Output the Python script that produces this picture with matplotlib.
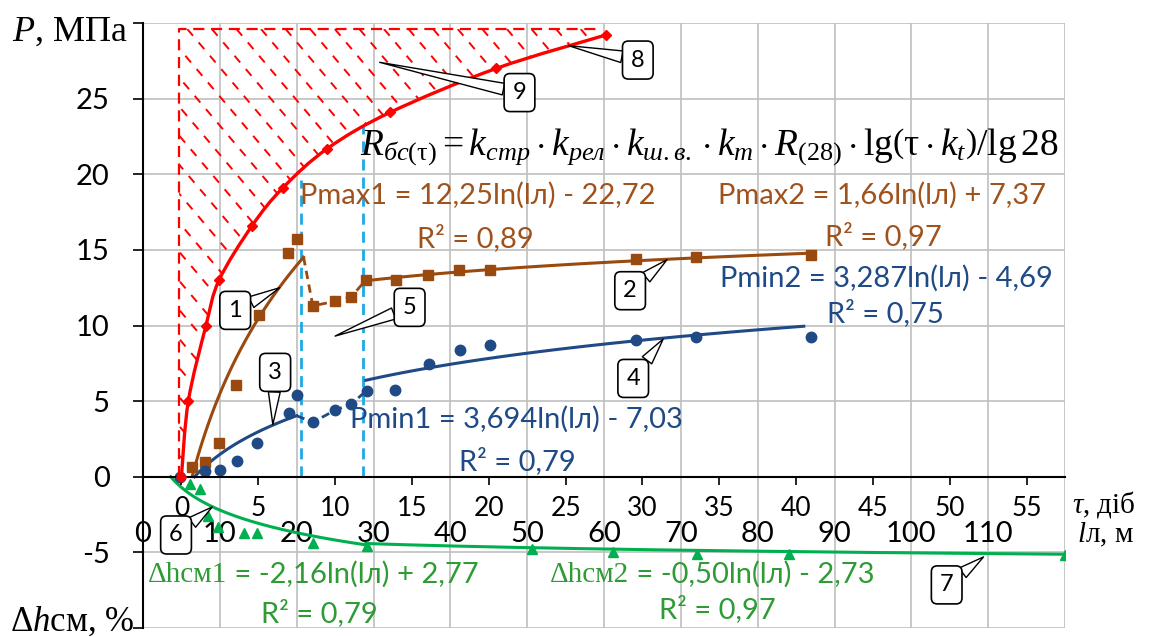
import numpy as np
import matplotlib
matplotlib.use('Agg')
import matplotlib.pyplot as plt
from matplotlib.path import Path
from matplotlib.patches import PathPatch

plt.rcParams['font.family'] = ['Lato', 'Open Sans', 'DejaVu Sans']
plt.rcParams['mathtext.fontset'] = 'custom'
plt.rcParams['mathtext.rm'] = 'Liberation Serif'
plt.rcParams['mathtext.it'] = 'Liberation Serif:italic'
plt.rcParams['mathtext.bf'] = 'Liberation Serif:bold'

# ---- data ----
# curve 8: concrete strength vs age tau (days)
tau_r = [0.0, 0.45, 1.6, 2.45, 4.6, 6.6, 9.5, 13.6, 20.5, 27.6]
P_r = [0.0, 5.0, 10.0, 13.0, 16.6, 19.1, 21.7, 24.1, 27.0, 29.2]

# Pmax points vs lл, m
l_max = [6.4, 8.1, 9.9, 12.1, 15.1, 18.9, 20.0, 22.1, 25.0, 27.1, 29.0, 32.9,
         37.1, 41.1, 45.1, 64.1, 72.0, 87.0]
P_max = [0.66, 0.95, 2.25, 6.05, 10.7, 14.8, 15.7, 11.3, 11.6, 11.9, 13.0, 13.0,
         13.35, 13.7, 13.7, 14.4, 14.55, 14.65]

# Pmin points vs lл
l_min = [4.8, 8.1, 10.0, 12.2, 14.8, 19.0, 20.0, 22.1, 25.0, 27.1, 29.1, 32.8,
         37.2, 41.2, 45.1, 64.1, 72.0, 87.0]
P_min = [0.0, 0.4, 0.45, 1.05, 2.25, 4.2, 5.4, 3.6, 4.4, 4.8, 5.7, 5.75,
         7.45, 8.4, 8.7, 9.05, 9.25, 9.25]

# settlement dh, % vs lл
l_dh = [6.1, 7.4, 8.5, 9.8, 13.1, 14.8, 22.1, 29.1, 50.6, 61.2, 72.1, 84.1, 120.0]
dh = [-0.45, -0.8, -2.6, -3.35, -3.75, -3.75, -4.35, -4.6, -4.8, -4.95, -5.1, -5.1, -5.2]

# trend lines y = a*ln(l) + b over [l_from, l_to]
trend_max = [(12.25, -22.72, 6.4, 20.9), (1.66, 7.37, 29.0, 87.0)]
trend_min = [(3.694, -7.03, 6.7, 20.0), (3.287, -4.69, 29.0, 86.0)]
trend_dh = [(-2.16, 2.77, 3.6, 29.0), (-0.50, -2.73, 29.0, 120.0)]

# zone 5 borders (lл) and their tops (P)
zone_l = [20.6, 28.6]
zone_top = [19.6, 23.2]

# hatched zone 9 (tau, P)
hatch_left = -0.15
hatch_top = 29.6
hatch_right = 27.4

l_ticks = list(range(0, 121, 10))
l_labels = [str(v) for v in range(0, 111, 10)] + ['']
p_ticks = list(range(-10, 31, 5))
p_labels = [''] + [str(v) for v in range(-5, 26, 5)] + ['']
tau_ticks = list(range(0, 56, 5))

brown = '#9A4A0E'
brown_txt = '#A0521C'
blue = '#1F4A85'
green = '#00B050'
green_txt = '#2E9B35'
cyan = '#1EA9E6'

eq_texts = [
    ('Pmax1 = 12,25ln(lл) - 22,72', brown_txt, 43.6, 18.6),
    ('R² = 0,89', brown_txt, 43.3, 15.8),
    ('Pmax2 = 1,66ln(lл) + 7,37', brown_txt, 96.2, 18.6),
    ('R² = 0,97', brown_txt, 96.3, 15.9),
    ('Pmin2 = 3,287ln(lл) - 4,69', blue, 96.7, 13.1),
    ('R² = 0,75', blue, 96.6, 10.8),
    ('Pmin1 = 3,694ln(lл) - 7,03', blue, 48.6, 3.8),
    ('R² = 0,79', blue, 48.7, 1.05),
    ('R² = 0,79', green_txt, 22.9, -9.0),
    ('R² = 0,97', green_txt, 74.8, -8.75),
]
dh_texts = [('Δhсм1', ' = -2,16ln(lл) + 2,77', 0.6, -6.94),
            ('Δhсм2', ' = -0,50ln(lл) - 2,73', 53.0, -6.94)]

callouts_l = [('1', (17.8, 12.5), (12.0, 11.0)), ('2', (68.2, 14.35), (63.4, 12.3)),
              ('3', (16.9, 3.45), (17.2, 6.9)), ('4', (67.7, 9.1), (63.8, 6.5)),
              ('5', (25.0, 9.3), (34.7, 11.2)), ('6', (9.0, -2.0), (4.3, -3.85)),
              ('7', (109.4, -5.3), (104.6, -7.15))]
callouts_tau = [('8', (25.2, 28.5), (29.7, 27.55)), ('9', (12.9, 27.4), (22.0, 25.4))]


def smooth(x, y):
    # Catmull-Rom -> cubic bezier, like Excel's smoothed line
    pts = np.column_stack([x, y]).astype(float)
    verts = [pts[0]]
    codes = [Path.MOVETO]
    n = len(pts)
    for i in range(n - 1):
        p0 = pts[i - 1] if i > 0 else pts[i]
        p1, p2 = pts[i], pts[i + 1]
        p3 = pts[i + 2] if i + 2 < n else pts[i + 1]
        verts += [p1 + (p2 - p0) / 6, p2 - (p3 - p1) / 6, p2]
        codes += [Path.CURVE4] * 3
    return verts, codes


def callout(axis, num, xy, xytext):
    axis.annotate(num, xy=xy, xytext=xytext, ha='center', va='center',
                  fontsize=17, zorder=10,
                  bbox=dict(boxstyle='round,pad=0.36,rounding_size=0.25', fc='white',
                            ec='black', lw=1.2),
                  arrowprops=dict(arrowstyle='wedge,tail_width=0.5,shrink_factor=0.5',
                                  fc='white', ec='black', lw=1.0, shrinkA=0, shrinkB=0))


fig = plt.figure(figsize=(11.51, 6.37), dpi=100)
ax = fig.add_axes([143 / 1151, 9 / 637, 922 / 1151, 605 / 637])
ax2 = ax.twiny()

# main axes: lл (m) horizontally, P / dh vertically
ax.set_xlim(0, 120)
ax.set_ylim(-10, 30)
ax.xaxis.tick_bottom()
ax.set_xticks(l_ticks, l_labels)
ax.set_yticks(p_ticks, p_labels)
ax.grid(True, color='#BFBFBF', lw=1.2)
ax.set_axisbelow(True)
for s in ['top', 'right']:
    ax.spines[s].set_visible(False)
ax.spines['bottom'].set_position(('data', -2.75))
ax.spines['bottom'].set_color('none')
ax.spines['left'].set_color('black')
ax.spines['left'].set_linewidth(1.5)
ax.tick_params(axis='x', length=0, labelsize=21, pad=2)
ax.tick_params(axis='y', direction='out', length=7, width=1.2, labelsize=21, pad=17)

# second axis: tau, days
ax2.set_xlim(-2.5, 57.5)
for s in ['top', 'left', 'right']:
    ax2.spines[s].set_visible(False)
ax2.spines['bottom'].set_visible(True)
ax2.spines['bottom'].set_position(('data', 0))
ax2.spines['bottom'].set_linewidth(1.5)
ax2.xaxis.set_ticks_position('bottom')
ax2.set_xticks(tau_ticks)
ax2.tick_params(axis='x', direction='out', length=6, width=1.2, labelsize=19, pad=8)

# zone borders
for xl, top in zip(zone_l, zone_top):
    ax.plot([xl, xl], [0, top], color=cyan, lw=2, ls=(0, (4, 2.5)), zorder=2)

# Pmax
for a, b, l0, l1 in trend_max:
    ll = np.linspace(l0, l1, 120)
    ax.plot(ll, a * np.log(ll) + b, color=brown, lw=2.2, zorder=3)
a, b, l0, l1 = trend_max[0]
ax.plot([l1] + l_max[7:11], [a * np.log(l1) + b] + P_max[7:11], color=brown, lw=2,
        ls=(0, (3, 2)), zorder=3)
ax.plot(l_max, P_max, 's', color=brown, ms=7.5, zorder=4)

# Pmin
for a, b, l0, l1 in trend_min:
    ll = np.linspace(l0, l1, 120)
    ax.plot(ll, a * np.log(ll) + b, color=blue, lw=2.2, zorder=3)
a, b, l0, l1 = trend_min[0]
ax.plot([l1] + l_min[7:11], [a * np.log(l1) + b] + P_min[7:11], color=blue, lw=2,
        ls=(0, (3, 2)), zorder=3)
ax.plot(l_min, P_min, 'o', color=blue, ms=7.5, zorder=4)

# dh
for a, b, l0, l1 in trend_dh:
    ll = np.linspace(l0, l1, 200)
    ax.plot(ll, a * np.log(ll) + b, color=green, lw=2.2, zorder=3)
ax.plot(l_dh, dh, '^', color=green, ms=7, zorder=4)

# red curve and hatched zone
v, c = smooth(tau_r, P_r)
ax2.add_patch(PathPatch(Path(v, c), fc='none', ec='red', lw=2.4, zorder=5))
ax2.plot(tau_r, P_r, 'D', color='red', ms=5, zorder=6)

rv, rc = smooth(tau_r[::-1], P_r[::-1])
hv = [(hatch_left, 0), (hatch_left, hatch_top), (hatch_right, hatch_top)] + rv + [(0, 0)]
hc = [Path.MOVETO, Path.LINETO, Path.LINETO, Path.LINETO] + rc[1:] + [Path.CLOSEPOLY]
zone = PathPatch(Path(hv, hc), fc='none', ec='none')
ax2.add_patch(zone)
steep = 1.2
for c0 in np.arange(hatch_left - hatch_top / steep - 2, hatch_right + 2, 1.6):
    ln, = ax2.plot([c0, c0 + 40 / steep], [hatch_top, hatch_top - 40], color='red', lw=1.4,
                   dashes=(4.5, 4.5), zorder=4)
    ln.set_clip_path(zone)
ax2.plot([hatch_left, hatch_left, hatch_right], [0, hatch_top, hatch_top], color='red',
         lw=1.6, ls=(0, (5, 3)), zorder=4)

# equations
for s, col, x, y in eq_texts:
    ax.text(x, y, s, color=col, fontsize=21, ha='center', va='center', zorder=7)
for s1, s2, x, y in dh_texts:
    t = ax.text(x, y, s1, color=green_txt, fontsize=21, family='Liberation Serif',
                ha='left', va='baseline', zorder=7)
    ax.annotate(s2, xy=(1, 0), xycoords=t, color=green_txt, fontsize=21,
                ha='left', va='bottom', zorder=7)

ax.text(28.2, 21.35,
        r'$R_{бс(\mathrm{\tau})} = k_{стр} \cdot k_{рел} \cdot k_{ш.в.} \cdot k_{т} \cdot '
        r'R_{(28)} \cdot \mathrm{lg}\left(\mathrm{\tau} \cdot k_{t}\right)/\mathrm{lg}\,28$',
        fontsize=27, ha='left', va='baseline', zorder=7)

for num, xy, xyt in callouts_l:
    callout(ax, num, xy, xyt)
for num, xy, xyt in callouts_tau:
    callout(ax2, num, xy, xyt)

# axis titles
fig.text(12 / 1151, 1 - 41 / 637, r'$P$, МПа', family='Liberation Serif', fontsize=26,
         ha='left', va='baseline')
fig.text(10 / 1151, 1 - 631 / 637, r'Δ$h$см, %', family='Liberation Serif', fontsize=25,
         ha='left', va='baseline')
fig.text(1072 / 1151, 1 - 513 / 637, r'$\tau$, діб', family='Liberation Serif', fontsize=21,
         ha='left', va='baseline')
fig.text(1077 / 1151, 1 - 542 / 637, r'$l$л, м', family='Liberation Serif', fontsize=21,
         ha='left', va='baseline')

fig.savefig('out.png', dpi=100)
